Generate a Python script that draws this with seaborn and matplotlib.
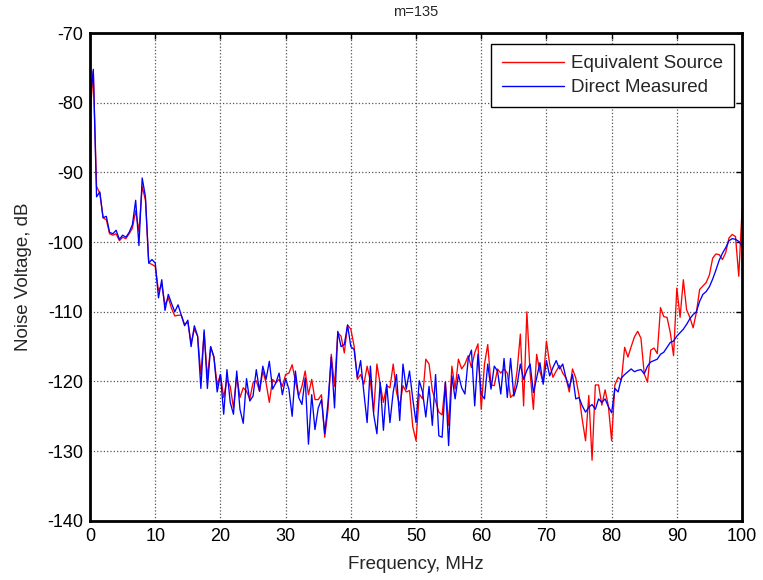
import numpy as np
import pandas as pd
import matplotlib
matplotlib.use("Agg")
import matplotlib.pyplot as plt
import seaborn as sns

# Frequency grid, 0.5 MHz spacing from 0 to 100 MHz
freq_mhz = np.arange(0, 100.5, 0.5)

# Noise voltage (dB) for the equivalent-source model
equivalent_source = [
    # 0 - 10 MHz
    -82, -75.5, -92, -93, -96.5, -96.8, -98.8, -99, -98.8, -99.8, -99.3,
    -99.5, -98.8, -98, -95.5, -98.5, -92, -94, -103, -103.2, -103.5,
    # 10.5 - 20 MHz
    -107, -106.1, -109, -108, -109.5, -110.6, -110.5, -110.5, -111.8, -111.5,
    -114.5, -112.5, -113.5, -119, -113, -119.5, -115, -116.5, -120.5, -119,
    # 20.5 - 40 MHz
    -122.3, -119.7, -120.7, -123.8, -119.2, -122.3, -120.9, -121.4, -122.5, -120.2,
    -119.9, -121.4, -118.5, -120.2, -123, -119.7, -120.2, -119.7, -120.7, -119,
    -118.8, -117.6, -119.9, -122.1, -120.7, -118.5, -121.9, -119.7, -122.6, -122.6,
    -121.9, -128, -124, -116.1, -120.7, -113, -113.5, -115.9, -111.9, -112.5,
    # 40.5 - 60 MHz
    -114.9, -119.7, -119, -120.4, -117.8, -120, -124.4, -117.5, -120.4, -123,
    -120.6, -120.9, -117.5, -121.5, -123.5, -120.6, -121.5, -121.3, -126.5, -128.5,
    -121.8, -122.5, -116.8, -117.5, -121.3, -122.8, -124.4, -124.8, -120.1, -126.3,
    -117.8, -121.1, -116.8, -118.2, -117.5, -116.3, -118, -115.9, -114.6, -124,
    # 60.5 - 80 MHz
    -117.5, -114.7, -120.5, -120.6, -118.2, -118.8, -118.2, -118.8, -122.3, -121.8,
    -118.5, -113.2, -123.5, -110, -118.8, -124, -116.1, -118.6, -120, -114.2,
    -117.5, -119.4, -118.5, -117.7, -118.8, -119.5, -121.5, -118.2, -119.5, -122,
    -125.5, -128.5, -122, -131.3, -120.5, -120.5, -123.4, -121.2, -123.5, -128.5,
    # 80.5 - 100 MHz
    -120.5, -119.4, -119.8, -115.1, -116.5, -115, -113.6, -112.8, -113.8, -118.9,
    -120.1, -115.5, -115.2, -116, -109.4, -110.7, -110.8, -113, -116.3, -106.6,
    -110.8, -105.4, -109.7, -110.8, -112.3, -110.1, -106.8, -106.3, -105.8, -104.7,
    -102.3, -101.7, -101.8, -102.5, -101.5, -99.4, -98.9, -99.2, -104.9, -95.5,
]

# Noise voltage (dB) from the direct measurement
direct_measured = [
    # 0 - 10 MHz
    -80, -75.2, -93.5, -92.8, -96.5, -96.3, -98.6, -98.8, -98.3, -99.6, -99,
    -99.3, -98.6, -97.5, -94, -100.5, -90.8, -93.5, -103, -102.5, -103,
    # 10.5 - 20 MHz
    -108, -105.4, -109.8, -107.5, -108.8, -110, -109, -110.5, -112, -111.2,
    -115, -112, -113.5, -121, -112.6, -121, -115, -116.5, -121.5, -119,
    # 20.5 - 40 MHz
    -124.7, -118.3, -123, -124.7, -118.5, -124, -126, -119.6, -122.8, -122.1,
    -118.3, -121.4, -117.8, -119.7, -117.1, -121.1, -120.2, -118.8, -121.9, -119.6,
    -121.1, -125, -118.5, -122.3, -123.3, -119.5, -129, -121.9, -126.9, -123.8,
    -122.6, -127.5, -123, -116.5, -123.8, -112.8, -115, -114.7, -111.9, -115,
    # 40.5 - 60 MHz
    -115.4, -119.4, -117, -121.6, -125.9, -117.8, -124.7, -127.5, -120.1, -127,
    -120.4, -125.9, -121.5, -119, -125.6, -117.5, -121.1, -118.5, -122.5, -125.9,
    -119.9, -121.5, -125.1, -120.7, -126.3, -119, -127.8, -128, -120.1, -129.2,
    -119.2, -122.5, -119, -120.9, -121.8, -116.8, -115.5, -123.5, -116.1, -121.8,
    # 60.5 - 80 MHz
    -122.5, -117.5, -121.1, -117.8, -118.5, -121.8, -116.7, -122.3, -116.7, -122.1,
    -120.5, -117.5, -119.7, -118.4, -117.5, -121.6, -119.5, -117.3, -120.4, -117,
    -119.2, -118, -117, -118.2, -117.5, -119.5, -120.9, -119, -122.5, -122.3,
    -123.5, -124.4, -123.7, -123.3, -124, -122.5, -123, -122.5, -123.6, -124.5,
    # 80.5 - 100 MHz
    -121, -121.5, -119.5, -119, -118.6, -118.2, -118.6, -118.4, -118.3, -118.9,
    -117.8, -117.2, -117, -116.8, -116.1, -115.8, -115.1, -114.4, -114.2, -113.5,
    -113, -112.5, -111.8, -111, -110.4, -110, -108.5, -107.5, -107.1, -106.4,
    -105.3, -104, -102.6, -101.6, -100.8, -99.8, -99.5, -99.6, -99.9, -100.5,
]

series_names = ["Equivalent Source", "Direct Measured"]
series_colors = ["#ff0000", "#0000ff"]
x_ticks = list(range(0, 101, 10))
y_ticks = list(range(-140, -69, 10))

df = pd.DataFrame({
    "Frequency": np.concatenate([freq_mhz, freq_mhz]),
    "Noise": np.concatenate([equivalent_source, direct_measured]),
    "Series": [series_names[0]] * len(freq_mhz) + [series_names[1]] * len(freq_mhz),
})

sns.set_style("white")
plt.rcParams["font.family"] = ["Liberation Sans", "DejaVu Sans"]
plt.rcParams["axes.unicode_minus"] = False

fig = plt.figure(figsize=(7.63, 5.80), dpi=100)
ax = fig.add_axes([0.118, 0.102, 0.8545, 0.841])

sns.lineplot(data=df, x="Frequency", y="Noise", hue="Series",
             hue_order=series_names, palette=series_colors,
             linewidth=0.95, ax=ax, estimator=None, sort=False)

ax.set_xlim(0, 100)
ax.set_ylim(-140, -70)
ax.set_xticks(x_ticks)
ax.set_yticks(y_ticks)
ax.tick_params(direction="in", top=True, right=True, length=4, width=1,
               labelsize=13, colors="black", pad=5)
ax.grid(True, linestyle=":", color="#555555", linewidth=0.9)
for side in ax.spines.values():
    side.set_color("black")
    side.set_linewidth(2.0)

ax.set_xlabel("Frequency, MHz", fontsize=13.5, labelpad=8)
ax.set_ylabel("Noise Voltage, dB", fontsize=13.5, labelpad=11)
ax.set_title("m=135", fontsize=10.5, pad=12)

leg = ax.legend(loc="upper right", fontsize=13.5, frameon=True, fancybox=False,
                edgecolor="black", framealpha=1, handlelength=3.3,
                borderpad=0.6, labelspacing=0.35, handletextpad=0.35,
                borderaxespad=0, bbox_to_anchor=(0.9877, 0.9775))
leg.get_frame().set_linewidth(1.0)
for line in leg.get_lines():
    line.set_linewidth(1.0)

fig.savefig("out.png", dpi=100)
